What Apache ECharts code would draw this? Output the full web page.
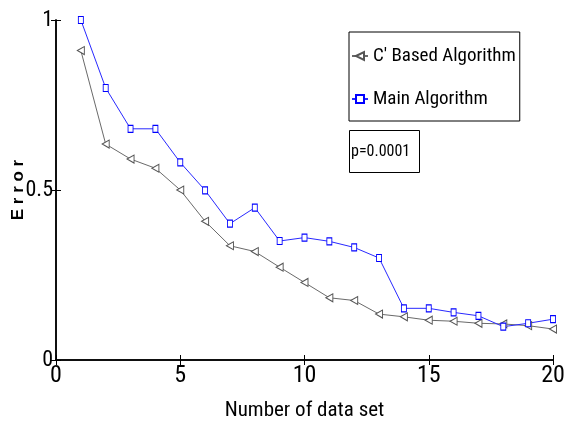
<!DOCTYPE html>
<html><head><meta charset="utf-8">
<script src="https://cdn.jsdelivr.net/npm/echarts@6/dist/echarts.min.js"></script>
<style>html,body{margin:0;padding:0;background:#fff}#c{width:565px;height:430px}</style>
</head><body><div id="c"></div>
<script>
const xValues = [1,2,3,4,5,6,7,8,9,10,11,12,13,14,15,16,17,18,19,20];
const cBased = [0.91,0.635,0.591,0.564,0.50,0.408,0.336,0.319,0.273,0.228,0.183,0.175,0.135,0.127,0.117,0.114,0.108,0.106,0.101,0.091];
const mainAlg = [1.0,0.80,0.68,0.68,0.581,0.499,0.401,0.448,0.35,0.36,0.349,0.331,0.30,0.152,0.152,0.14,0.13,0.098,0.108,0.12];
const seriesNames = ["C' Based Algorithm", "Main Algorithm"];
const xTicks = [0,5,10,15,20];
const yTicks = [0,0.5,1];
const annotation = "p=0.0001";

const FONT = "'Roboto Condensed','Liberation Sans',Arial,sans-serif";
const chart = echarts.init(document.getElementById('c'));
const pair = (xs, ys) => xs.map((x,i)=>[x, ys[i]]);
const tickFmt = v => (xTicks.includes(v) || yTicks.includes(v)) ? String(v) : '';

chart.setOption({
  animation:false,
  backgroundColor:'#fff',
  grid:{left:56,right:12,top:20,bottom:70,containLabel:false,outerBoundsMode:'none'},
  title:{text:annotation,left:349,top:130,padding:[13,9,13,2],borderColor:'#000',borderWidth:1,
    textStyle:{fontFamily:FONT,fontSize:16,fontWeight:'normal',color:'#000',lineHeight:17}},
  legend:{orient:'vertical',left:349,top:32,padding:[14,4,12,2],itemGap:23,
    borderColor:'#000',borderWidth:1,itemWidth:16,itemHeight:10,
    textStyle:{fontFamily:FONT,fontSize:19,color:'#000',lineHeight:20},
    data:seriesNames},
  xAxis:[{type:'value',min:0,max:20,interval:5,
    name:'Number of data set',nameLocation:'middle',nameGap:40,nameMoveOverlap:false,
    nameTextStyle:{fontFamily:FONT,fontSize:21,color:'#000'},
    axisLine:{show:true,lineStyle:{color:'#000',width:1.5}},
    axisTick:{show:true,inside:true,length:5,lineStyle:{color:'#000'}},
    axisLabel:{fontFamily:FONT,fontSize:24,color:'#000',margin:4,formatter:tickFmt},
    splitLine:{show:false}},
   {type:'value',position:'top',min:0,max:20,interval:5,
    axisLine:{show:true,lineStyle:{color:'#000',width:1.5}},
    axisTick:{show:true,inside:true,length:5,lineStyle:{color:'#000'}},
    axisLabel:{show:false},splitLine:{show:false}}],
  yAxis:[{type:'value',min:0,max:1,interval:0.5,
    name:'E r r o r',nameLocation:'middle',nameGap:29,nameRotate:90,nameMoveOverlap:false,
    nameTextStyle:{fontFamily:"'Liberation Sans',Arial,sans-serif",fontSize:17,fontWeight:'bold',color:'#000'},
    axisLine:{show:true,lineStyle:{color:'#000',width:1.5}},
    axisTick:{show:true,inside:true,length:5,lineStyle:{color:'#000'}},
    axisLabel:{fontFamily:FONT,fontSize:22,color:'#000',margin:3,formatter:tickFmt},
    splitLine:{show:false}},
   {type:'value',position:'right',min:0,max:1,interval:0.5,
    axisLine:{show:true,lineStyle:{color:'#000',width:1.5}},
    axisTick:{show:true,inside:true,length:5,lineStyle:{color:'#000'}},
    axisLabel:{show:false},splitLine:{show:false}}],
  series:[
    {name:seriesNames[0],type:'line',data:pair(xValues,cBased),
     symbol:'triangle',symbolRotate:90,symbolSize:[8,7],showAllSymbol:true,
     lineStyle:{color:'#6a6a6a',width:1},
     itemStyle:{color:'#fff',borderColor:'#555',borderWidth:1},
     color:'#6a6a6a'},
    {name:seriesNames[1],type:'line',data:pair(xValues,mainAlg),
     symbol:'rect',symbolSize:[5,7],showAllSymbol:true,
     lineStyle:{color:'#2828ff',width:1},
     itemStyle:{color:'#fff',borderColor:'#0000ff',borderWidth:1},
     color:'#2828ff'}
  ]
});
</script></body></html>
